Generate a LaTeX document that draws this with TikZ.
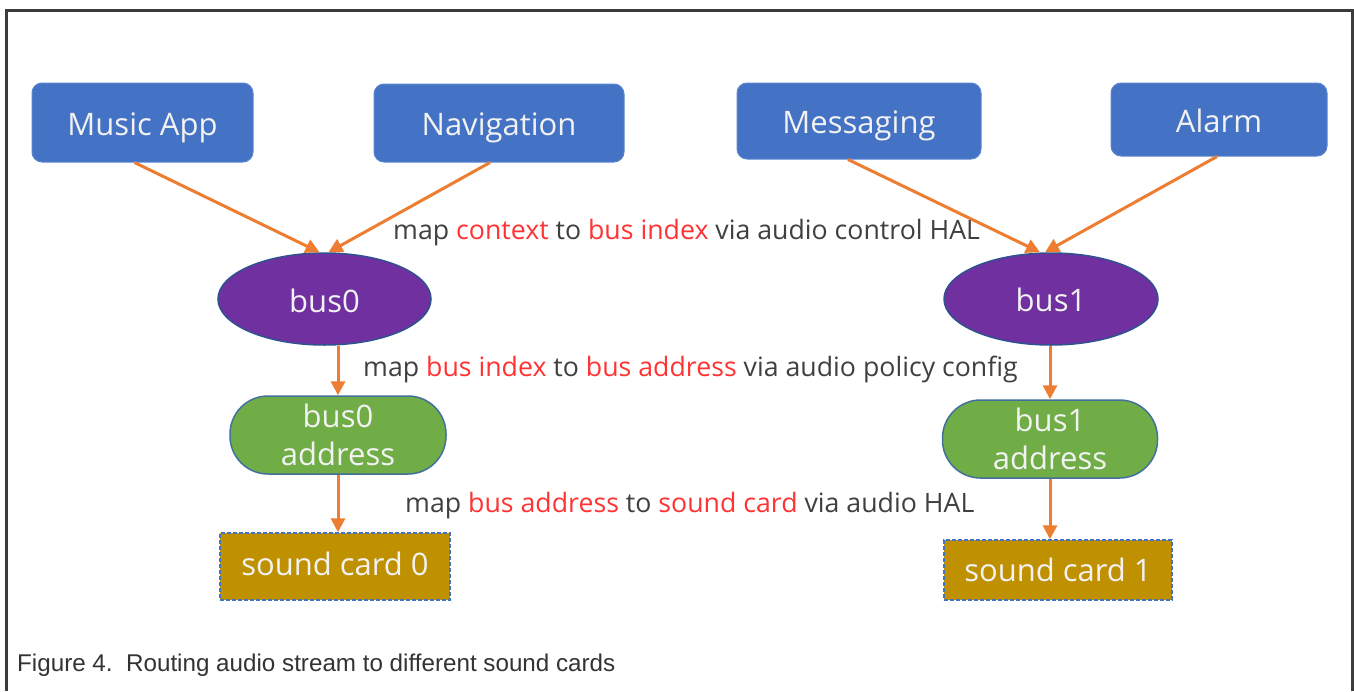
\documentclass[tikz,border=0pt]{standalone}
\usepackage{fontspec}
\setmainfont{Open Sans}
\newfontfamily\capfont{Liberation Sans}
\usetikzlibrary{shapes.geometric,arrows.meta}
\definecolor{appblue}{HTML}{4472C4}
\definecolor{appedge}{HTML}{5A85D0}
\definecolor{buspurple}{HTML}{7030A0}
\definecolor{busedge}{HTML}{2F528F}
\definecolor{addrgreen}{HTML}{70AD47}
\definecolor{addredge}{HTML}{41719C}
\definecolor{cardgold}{HTML}{BF9000}
\definecolor{arroworange}{HTML}{ED7D31}
\definecolor{hired}{HTML}{FF3333}
\definecolor{textgray}{HTML}{404040}
\definecolor{capgray}{HTML}{333333}
\definecolor{framegray}{HTML}{3C3C3C}
\definecolor{boxtext}{HTML}{F2F2F2}
\tikzset{
  appbox/.style={rectangle, rounded corners=10pt, fill=appblue, draw=appedge, line width=1pt,
    text=boxtext, font=\fontsize{31}{34}\selectfont, inner sep=0pt},
  busnode/.style={ellipse, fill=buspurple, draw=busedge, line width=1.5pt,
    text=boxtext, font=\fontsize{31}{34}\selectfont, inner sep=0pt},
  addrnode/.style={rectangle, rounded corners=38pt, fill=addrgreen, draw=addredge, line width=1.5pt,
    text=boxtext, font=\fontsize{31}{38}\selectfont, inner sep=0pt, align=center},
  cardnode/.style={rectangle, fill=cardgold, draw=appblue, line width=1.5pt, dash pattern=on 4pt off 2pt,
    text=boxtext, font=\fontsize{31}{34}\selectfont, inner sep=0pt},
  conn/.style={draw=arroworange, line width=3pt, -{Triangle[length=14pt,width=14pt]}},
  maplabel/.style={anchor=mid west, text=textgray, font=\fontsize{26.7}{30}\selectfont, inner sep=0pt}
}
\newcommand{\hlt}[1]{\textcolor{hired}{#1}}
\newcommand{\dn}[2]{\raisebox{-#1pt}[\height][\depth]{#2}}
\begin{document}
\begin{tikzpicture}[x=1pt,y=-1pt]
\useasboundingbox (0,0) rectangle (1354,691);
\fill[white] (0,0) rectangle (1354,691);
\draw[framegray, line width=3pt] (6,691) -- (6,10) -- (1352,10) -- (1352,691);

\node[appbox, minimum width=221pt, minimum height=79pt] (music) at (142.5,122.5) {\dn{5}{Music App}};
\node[appbox, minimum width=250pt, minimum height=78pt] (nav) at (499,123) {\dn{5}{Navigation}};
\node[appbox, minimum width=244pt, minimum height=76pt] (msg) at (859,121) {\dn{5}{Messaging}};
\node[appbox, minimum width=216pt, minimum height=73pt] (alarm) at (1219,119.5) {\dn{1}{Alarm}};

\node[busnode, minimum width=213pt, minimum height=92pt] (bus0) at (324.5,299) {\dn{2}{bus0}};
\node[busnode, minimum width=214pt, minimum height=92pt] (bus1) at (1051,299) {\dn{1}{bus1}};

\node[addrnode, minimum width=216pt, minimum height=78pt] (addr0) at (338,435) {bus0\\address};
\node[addrnode, minimum width=215pt, minimum height=78pt] (addr1) at (1050,439) {bus1\\address};

\node[cardnode, minimum width=230pt, minimum height=67pt] (card0) at (335,566.5) {\dn{-3}{sound card 0}};
\node[cardnode, minimum width=228pt, minimum height=60pt] (card1) at (1058,570) {sound card 1};

\draw[conn] ([xshift=-8pt]music.south) -- ([xshift=-5pt]bus0.north);
\draw[conn] ([xshift=-9pt]nav.south) -- ([xshift=4pt]bus0.north);
\draw[conn] ([xshift=-11pt]msg.south) -- ([xshift=-11pt]bus1.north);
\draw[conn] ([xshift=-2pt]alarm.south) -- ([xshift=-6pt]bus1.north);

\draw[conn] (addr0.north |- bus0.south) -- (addr0.north);
\draw[conn] (addr1.north |- bus1.south) -- (addr1.north);
\draw[conn] (addr0.south) -- (addr0.south |- card0.north);
\draw[conn] (addr1.south) -- (addr1.south |- card1.north);

\node[maplabel] (lab1) at (393,237) {map \hlt{context} to \hlt{bus index} via audio control HAL};
\node[maplabel] (lab2) at (363,374) {map \hlt{bus index} to \hlt{bus address} via audio policy config};
\node[maplabel] (lab3) at (405,510) {map \hlt{bus address} to \hlt{sound card} via audio HAL};

\node[anchor=mid west, inner sep=0pt, text=capgray, font=\capfont\fontsize{24.2}{28}\selectfont] (cap) at (17,669) {Figure 4.\ \ Routing audio stream to different sound cards};
\end{tikzpicture}
\end{document}
